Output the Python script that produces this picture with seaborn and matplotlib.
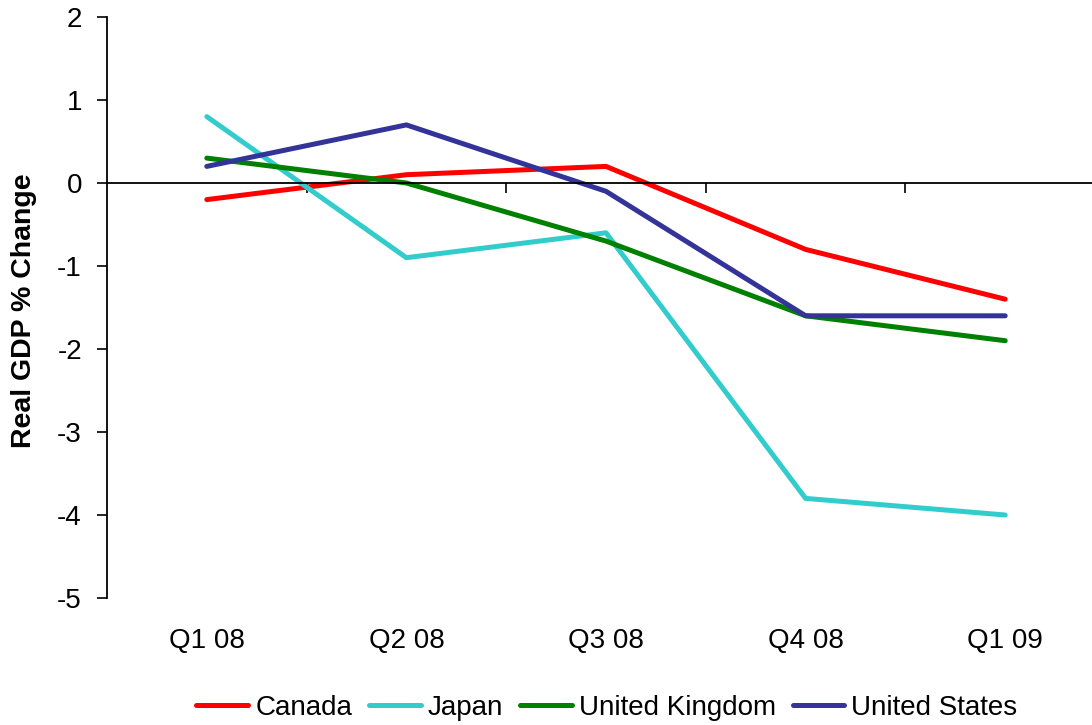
import matplotlib
matplotlib.use("Agg")
import matplotlib.pyplot as plt
import matplotlib.transforms as mtransforms
import seaborn as sns
import pandas as pd

quarters = ["Q1 08", "Q2 08", "Q3 08", "Q4 08", "Q1 09"]
canada = [-0.2, 0.1, 0.2, -0.8, -1.4]
japan = [0.8, -0.9, -0.6, -3.8, -4.0]
united_kingdom = [0.3, 0.0, -0.7, -1.6, -1.9]
united_states = [0.2, 0.7, -0.1, -1.6, -1.6]

series = {
    "Canada": canada,
    "Japan": japan,
    "United Kingdom": united_kingdom,
    "United States": united_states,
}
palette = {
    "Canada": "#FF0000",
    "Japan": "#33CCCC",
    "United Kingdom": "#008000",
    "United States": "#333399",
}

rows = []
for name, vals in series.items():
    for i, (q, v) in enumerate(zip(quarters, vals)):
        rows.append({"pos": i, "quarter": q, "country": name, "value": v})
df = pd.DataFrame(rows)

sns.set_theme(style="white")
plt.rcParams["font.family"] = ["Liberation Sans", "DejaVu Sans"]
plt.rcParams["text.color"] = "black"
plt.rcParams["axes.labelcolor"] = "black"
plt.rcParams["xtick.color"] = "black"
plt.rcParams["ytick.color"] = "black"

FS = 20
LW = 3.6

fig = plt.figure(figsize=(10.92, 7.25), dpi=100)
ax = fig.add_axes([107 / 1092, 127 / 725, 998 / 1092, 581 / 725])

sns.lineplot(data=df, x="pos", y="value", hue="country", palette=palette,
             linewidth=LW, ax=ax, sort=False, legend=True)
for line in ax.get_lines():
    line.set_solid_capstyle("round")
    line.set_solid_joinstyle("round")

ax.set_xlim(-0.5, len(quarters) - 0.5)
ax.set_ylim(-5, 2)
ax.set_yticks(range(-5, 3))
ax.set_yticklabels([str(v) for v in range(-5, 3)], fontsize=FS, color="black")
ax.tick_params(axis="y", direction="out", length=7, width=1.2, color="black",
               left=True, pad=11)

# category axis sits on the zero line, with ticks between categories
ax.spines["bottom"].set_position(("data", 0))
ax.spines["top"].set_visible(False)
ax.spines["right"].set_visible(False)
for s in ("left", "bottom"):
    ax.spines[s].set_color("black")
    ax.spines[s].set_linewidth(1.3)
ax.set_xticks([i + 0.5 for i in range(len(quarters))])
ax.set_xticklabels([])
ax.tick_params(axis="x", direction="out", length=7, width=1.2, color="black",
               bottom=True)

trans = mtransforms.blended_transform_factory(ax.transData, ax.transAxes)
for i, q in enumerate(quarters):
    ax.text(i, -0.074, q, transform=trans, ha="center", va="center",
            fontsize=FS, color="black")

ax.set_xlabel("")
ax.set_ylabel("")
fig.text(24 / 1092, 1 - 311 / 725, "Real GDP % Change", rotation=90,
         ha="center", va="center", fontsize=20.5, fontweight="bold",
         color="black")

ax.legend_.remove()
handles, labels = ax.get_legend_handles_labels()
leg = fig.legend(handles, labels, loc="center",
                 bbox_to_anchor=(607 / 1092, 1 - 708 / 725),
                 ncol=4, frameon=False, fontsize=FS, handlelength=1.87,
                 handletextpad=0.25, columnspacing=0.6, borderaxespad=0,
                 borderpad=0)
for t in leg.get_texts():
    t.set_color("black")
for h in leg.legend_handles:
    h.set_linewidth(LW)
    h.set_solid_capstyle("round")

fig.savefig("out.png", dpi=100)
